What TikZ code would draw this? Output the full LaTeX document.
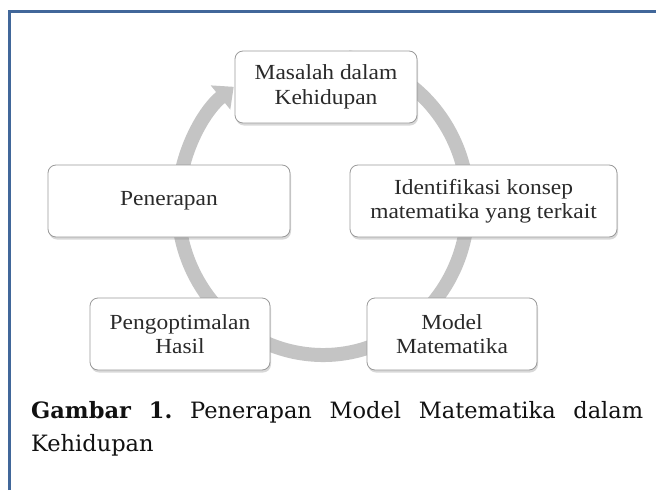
\documentclass[tikz,border=0pt]{standalone}
\usepackage{fontspec}
\setmainfont{Liberation Serif}
\newfontfamily\boxfont[FakeStretch=1.09]{Liberation Serif}
\newfontfamily\capfont{DejaVu Serif}
\usetikzlibrary{arrows.meta,shadows}
\definecolor{frameblue}{HTML}{41679A}
\definecolor{ringgray}{HTML}{C4C4C4}
\definecolor{boxedge}{HTML}{9A9A9A}
\definecolor{boxtext}{HTML}{2A2A2A}
\definecolor{captext}{HTML}{111111}
\begin{document}
\begin{tikzpicture}[x=1pt,y=-1pt,
  stepbox/.style={draw=boxedge, line width=0.8pt, rounded corners=8pt, fill=white,
    minimum height=72pt, inner sep=0pt, align=center, text=boxtext,
    font=\boxfont\fontsize{21.5}{24.5}\selectfont,
    drop shadow={shadow xshift=1pt, shadow yshift=-2.5pt, opacity=0.3}},
  captext/.style={anchor=base west, inner sep=0pt, text=captext,
    font=\capfont\fontsize{22.5}{33}\selectfont},
]
\useasboundingbox (0,0) rectangle (656,490);
\fill[white] (0,0) rectangle (656,490);
\draw[frameblue, line width=3pt] (9.5,490) -- (9.5,11.5) -- (656,11.5);

% circular arrow
\coordinate (ringc) at (323,205);
\draw[ringgray, line width=14pt, -{Triangle[width=30pt,length=17pt]}]
  (ringc) ++(-80:145 and 150) arc[start angle=-80, end angle=232, x radius=145, y radius=150];

\node[stepbox, minimum width=182pt] (mas) at (326,87) {Masalah dalam\\Kehidupan};
\node[stepbox, minimum width=267pt] (ide) at (483.5,201) {Identifikasi konsep\\matematika yang terkait};
\node[stepbox, minimum width=242pt] (pen) at (169,201) {Penerapan};
\node[stepbox, minimum width=180pt] (opt) at (180,334) {Pengoptimalan\\Hasil};
\node[stepbox, minimum width=170pt] (mod) at (452,334) {Model\\Matematika};

\node[captext] (cap1) at (31,418) {\makebox[612pt]{\textbf{Gambar}\hfill\textbf{1.}\hfill Penerapan\hfill Model\hfill Matematika\hfill dalam}};
\node[captext] (cap2) at (31,451) {Kehidupan};
\end{tikzpicture}
\end{document}
